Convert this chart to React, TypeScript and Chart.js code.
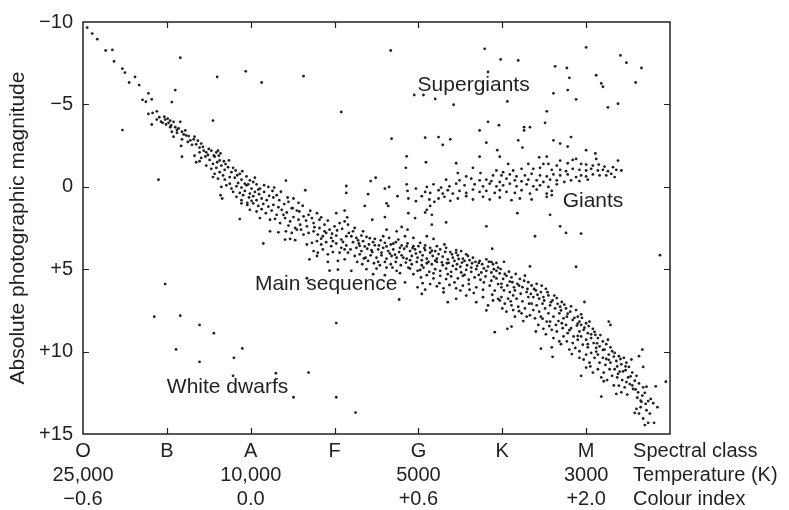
import React, { useEffect, useRef } from 'react';
import { Chart, registerables } from 'chart.js';

Chart.register(...registerables);

const INK = '#231f20';
const FONT = '"Liberation Sans", Arial, Helvetica, sans-serif';

// x = spectral class index (O=0 ... M=6), y = absolute photographic magnitude
const spectralClasses = ['O', 'B', 'A', 'F', 'G', 'K', 'M'];
const temperatureLabels = ['25,000', '', '10,000', '', '5000', '', '3000'];
const colourIndexLabels = ['\u22120.6', '', '0.0', '', '+0.6', '', '+2.0'];
const rowTitles = ['Spectral class', 'Temperature (K)', 'Colour index'];
const rowTitleX = 6.56;
const magnitudeTicks = [-10, -5, 0, 5, 10, 15];
const magnitudeTickLabels = ['\u221210', '\u22125', '0', '+5', '+10', '+15'];

const regionLabels = [
  { text: 'Supergiants', x: 3.99, y: -6.17 },
  { text: 'Giants', x: 5.72, y: 0.89 },
  { text: 'Main sequence', x: 2.05, y: 5.91 },
  { text: 'White dwarfs', x: 1.0, y: 12.19 },
];

const mainSequenceHot: [number, number][] = [
  [0.05, -9.66], [0.11, -9.3], [0.17, -8.96], [0.27, -8.27], [0.35, -8.31], [0.37, -7.61], [0.47, -7.17],
  [0.5, -6.93], [0.55, -6.33], [0.62, -6.67], [0.67, -6.17], [0.71, -5.28], [0.75, -5.16], [0.78, -5.67],
  [0.82, -5.31], [0.78, -4.42], [0.83, -4.48], [0.88, -4.58], [0.82, -3.78], [0.88, -4.08], [0.91, -4.22],
  [0.95, -3.88], [0.98, -4.08], [1.01, -4.14], [1.02, -3.88], [1.04, -4.02], [1.08, -3.94], [0.99, -3.78],
  [1.04, -3.62], [1.1, -3.62], [1.06, -3.34], [1.08, -3.04], [1.12, -3.28], [1.16, -3.94], [1.14, -3.54],
  [1.18, -3.34], [1.22, -3.42], [1.23, -3.12], [1.18, -2.88], [1.26, -3.08], [1.28, -2.82], [1.32, -2.88],
  [1.33, -3.04], [1.17, -2.48], [1.35, -2.58], [1.39, -2.38], [1.41, -2.62], [1.44, -2.19], [1.39, -2.09],
  [1.47, -2.09], [1.53, -2.19], [1.59, -2.09], [1.61, -2.19], [1.64, -2.03],
];

const mainSequenceA: [number, number][] = [
  [1.18, -1.83], [1.33, -1.89], [1.41, -1.75], [1.49, -1.93], [1.57, -1.83], [1.62, -1.89],
  [1.35, -1.49], [1.39, -1.55], [1.47, -1.29], [1.51, -1.63], [1.55, -1.39], [1.6, -1.49], [1.65, -1.29], [1.68, -1.55],
  [1.53, -1.09], [1.59, -1.15], [1.63, -0.89], [1.69, -1.03], [1.73, -1.19], [1.77, -0.89], [1.82, -0.99], [1.87, -0.79],
  [1.57, -0.79], [1.67, -0.69], [1.61, -0.49], [1.69, -0.43], [1.75, -0.59], [1.81, -0.55], [1.89, -0.43], [1.95, -0.63],
  [1.99, -0.39], [1.85, -0.23], [1.93, -0.19], [2.03, -0.29], [1.55, -0.59], [1.65, 0.01], [1.71, -0.09], [1.77, 0.11],
  [1.83, -0.03], [1.89, 0.05], [1.95, -0.09], [2.01, 0.11], [2.07, -0.15], [1.75, -0.19], [1.64, 0.51], [1.66, 0.71],
  [1.79, 0.31], [1.87, 0.37], [1.93, 0.25], [1.99, 0.41], [2.05, 0.31], [2.09, 0.17], [1.91, 0.51], [1.98, 0.65],
  [2.03, 0.57], [2.07, 0.81], [1.83, 0.61], [1.89, 0.81], [1.96, 0.97], [2.01, 0.85],
  [2.11, 0.11], [2.16, 0.31], [2.21, 0.01], [2.26, 0.25], [2.31, 0.51], [2.13, 0.71], [2.19, 0.81], [2.27, 0.65],
  [2.34, 0.81], [2.45, 0.91], [2.51, 0.71], [2.57, 0.97],
];

const mainSequenceF: [number, number][] = [
  [1.89, 1.0], [1.96, 1.1], [2.03, 1.0], [2.09, 1.16], [2.15, 1.04], [2.21, 1.2], [2.27, 1.1], [2.33, 1.24],
  [1.99, 1.4], [2.07, 1.5], [2.13, 1.36], [2.18, 1.6], [2.25, 1.44], [2.31, 1.7], [2.37, 1.4], [2.43, 1.56],
  [2.49, 1.3], [2.55, 1.44], [1.87, 1.96], [2.11, 1.9], [2.23, 2.0], [2.35, 2.2], [2.41, 1.9], [2.47, 2.1],
  [2.51, 1.84], [2.57, 2.0], [2.63, 1.8], [2.69, 1.7], [2.73, 1.9], [2.79, 1.6], [2.82, 2.0], [2.59, 2.3],
  [2.67, 2.4], [2.75, 2.2], [2.82, 2.5], [2.88, 2.3], [2.94, 2.6], [3.0, 2.4], [3.06, 2.2], [3.12, 2.1],
  [3.16, 2.3], [2.23, 2.7], [2.33, 2.76], [2.42, 2.7], [2.49, 2.8], [2.55, 2.6], [2.63, 2.9], [2.69, 2.8],
  [2.75, 2.7], [2.8, 2.9], [2.86, 3.0], [2.9, 2.8], [2.96, 3.1], [3.02, 2.96], [3.08, 3.2], [3.14, 3.0],
  [3.17, 2.8], [2.41, 3.2], [2.47, 3.16], [2.53, 3.24], [2.67, 3.5], [2.73, 3.4], [2.79, 3.3], [2.84, 3.5],
  [2.9, 3.36], [2.96, 3.6], [3.02, 3.44], [3.08, 3.7], [3.14, 3.56], [2.15, 3.44], [2.75, 3.9], [2.8, 4.0],
  [2.86, 3.8], [2.92, 4.1], [2.98, 3.96], [3.06, 4.0], [3.12, 3.8], [2.7, 4.4], [2.79, 4.2], [2.92, 4.56],
  [3.04, 4.5], [2.94, 5.09], [3.04, 5.03], [3.12, 4.4], [3.16, 4.0],
];

const mainSequenceG: [number, number][] = [
  [3.2, 3.0], [3.26, 3.1], [3.32, 2.96], [3.38, 3.04], [3.48, 3.16], [3.58, 3.0], [3.65, 3.1], [3.76, 3.2],
  [3.84, 3.0], [3.94, 3.1], [4.1, 3.0], [4.18, 3.16],
  [3.22, 3.36], [3.29, 3.44], [3.34, 3.3], [3.41, 3.5], [3.46, 3.36], [3.53, 3.56], [3.6, 3.4], [3.67, 3.5],
  [3.73, 3.36], [3.8, 3.56], [3.87, 3.44], [3.94, 3.6], [4.02, 3.4], [4.08, 3.56], [4.14, 3.7], [4.22, 3.6],
  [4.31, 3.5], [4.45, 4.0], [4.57, 4.1],
  [3.19, 3.8], [3.26, 3.7], [3.32, 3.9], [3.39, 3.76], [3.45, 3.96], [3.52, 3.8], [3.58, 3.7], [3.64, 3.9],
  [3.7, 3.8], [3.77, 3.96], [3.83, 3.76], [3.9, 3.9], [3.96, 3.8], [4.02, 3.96], [4.08, 3.84], [4.14, 4.0],
  [4.2, 3.9], [4.26, 3.8], [4.33, 3.7], [4.38, 3.96], [4.45, 3.84], [4.51, 3.9],
  [3.24, 4.2], [3.3, 4.1], [3.37, 4.3], [3.43, 4.16], [3.5, 4.3], [3.56, 4.16], [3.62, 4.36], [3.68, 4.2],
  [3.74, 4.3], [3.8, 4.16], [3.86, 4.36], [3.92, 4.2], [3.99, 4.3], [4.05, 4.16], [4.1, 4.36], [4.17, 4.2],
  [4.22, 4.36], [4.29, 4.24], [4.35, 4.4], [4.41, 4.3], [4.47, 4.16], [4.53, 4.36], [4.59, 4.2], [4.65, 4.3],
  [4.73, 4.5], [4.81, 4.4], [4.87, 4.56],
  [3.27, 4.56], [3.33, 4.7], [3.4, 4.5], [3.47, 4.64], [3.54, 4.76], [3.6, 4.56], [3.67, 4.7], [3.73, 4.56],
  [3.79, 4.76], [3.85, 4.6], [3.92, 4.7], [3.98, 4.56], [4.04, 4.76], [4.1, 4.64], [4.16, 4.7], [4.22, 4.56],
  [4.29, 4.76], [4.34, 4.64], [4.41, 4.8], [4.46, 4.7], [4.52, 4.6], [4.58, 4.76], [4.64, 4.64], [4.7, 4.8],
  [4.76, 4.7], [4.83, 4.84], [4.89, 4.7], [4.95, 4.9],
  [3.2, 5.1], [3.38, 5.0], [3.5, 4.96], [3.62, 4.9], [3.74, 5.1], [3.9, 4.96], [3.99, 5.1], [4.06, 4.9],
  [4.13, 5.16], [4.2, 5.0], [4.26, 5.1], [4.33, 4.96], [4.39, 5.16], [4.45, 5.0], [4.51, 5.2], [4.57, 5.04],
  [4.63, 5.16], [4.69, 5.0], [4.75, 5.2], [4.81, 5.1], [4.87, 5.2], [4.93, 5.1],
  [3.46, 5.3], [3.6, 5.36], [3.78, 5.24], [3.94, 5.3], [4.03, 5.5], [4.1, 5.36], [4.18, 5.56], [4.26, 5.4],
  [4.33, 5.6], [4.39, 5.44], [4.47, 5.56], [4.53, 5.4], [4.6, 5.64], [4.67, 5.5], [4.74, 5.64], [4.8, 5.44],
  [4.87, 5.7], [4.93, 5.56],
  [3.84, 5.8], [3.99, 6.1], [4.08, 6.24], [4.14, 5.9], [4.22, 6.04], [4.3, 6.16], [4.37, 5.96], [4.45, 6.16],
  [4.53, 6.0], [4.61, 6.24], [4.69, 6.1], [4.77, 6.24], [4.85, 6.0], [4.91, 6.3], [4.95, 5.9],
  [4.04, 6.5], [4.3, 6.4], [4.35, 7.0], [4.45, 6.8], [4.57, 6.6], [4.69, 7.0], [4.77, 6.7], [4.83, 7.2],
  [4.89, 6.9], [4.81, 7.5], [4.95, 6.8], [3.77, 6.84],
];

const mainSequenceK: [number, number][] = [
  [4.98, 4.99], [5.03, 5.29], [5.08, 5.15], [5.01, 5.59], [5.11, 5.49], [4.99, 5.89], [5.06, 5.99], [5.12, 5.79],
  [5.02, 6.29], [5.09, 6.39], [4.99, 6.69], [5.07, 6.79], [5.13, 6.59], [5.03, 7.09], [5.11, 7.19], [5.05, 7.58],
  [5.13, 7.48], [5.0, 7.38],
  [5.16, 5.29], [5.21, 5.59], [5.27, 5.39], [5.18, 5.89], [5.24, 6.09], [5.31, 5.79], [5.15, 6.29], [5.22, 6.49],
  [5.29, 6.39], [5.17, 6.79], [5.24, 6.95], [5.31, 6.69], [5.19, 7.28], [5.27, 7.38], [5.32, 7.09], [5.23, 7.68],
  [5.29, 7.88], [5.15, 7.88],
  [5.35, 5.99], [5.41, 5.89], [5.4, 6.29], [5.46, 6.39], [5.52, 6.19], [5.37, 6.69], [5.44, 6.79], [5.49, 6.69],
  [5.35, 7.09], [5.41, 7.19], [5.48, 7.09], [5.37, 7.48], [5.44, 7.58], [5.51, 7.38], [5.39, 7.98], [5.46, 7.88],
  [5.53, 8.18], [5.43, 8.38], [5.4, 8.78], [5.49, 8.62],
  [5.55, 6.59], [5.6, 6.89], [5.65, 6.75], [5.71, 6.99], [5.57, 7.19], [5.63, 7.38], [5.69, 7.28], [5.55, 7.68],
  [5.61, 7.88], [5.68, 7.68], [5.73, 7.98], [5.57, 8.18], [5.64, 8.38], [5.71, 8.28], [5.59, 8.68], [5.65, 8.78],
  [5.72, 8.58], [5.61, 9.18], [5.68, 9.38], [5.73, 9.08],
  [5.76, 7.38], [5.81, 7.58], [5.88, 7.48], [5.77, 7.88], [5.84, 8.08], [5.9, 7.88], [5.76, 8.38], [5.82, 8.58],
  [5.89, 8.42], [5.78, 8.88], [5.85, 9.08], [5.92, 8.78], [5.77, 9.38], [5.84, 9.48], [5.9, 9.28], [5.8, 9.88],
  [5.87, 9.78], [5.92, 8.18], [5.94, 7.74],
  [5.94, 8.38], [6.0, 8.28], [6.04, 8.18], [5.97, 8.68], [6.02, 8.88], [6.08, 8.62], [5.94, 9.08], [6.0, 9.28],
  [6.06, 9.18], [6.11, 8.98], [5.96, 9.58], [6.02, 9.74], [6.09, 9.48], [5.92, 9.98], [6.0, 10.18], [6.06, 10.08],
  [6.12, 9.78], [5.97, 10.48], [6.04, 10.67], [6.1, 10.38], [6.0, 10.97], [6.08, 11.27], [5.92, 10.38], [5.94, 11.47],
  [6.14, 9.18], [6.2, 9.38], [6.26, 9.28], [6.16, 9.68], [6.22, 9.88], [6.29, 9.74], [6.14, 10.18], [6.2, 10.38],
  [6.27, 10.18], [6.31, 9.98], [6.16, 10.67], [6.23, 10.81], [6.29, 10.67], [6.14, 11.07], [6.21, 11.27], [6.28, 11.07],
  [6.18, 11.57], [6.25, 11.73], [6.31, 11.47], [6.27, 8.18], [6.29, 8.38],
  [6.34, 10.08], [6.39, 10.28], [6.45, 10.38], [6.36, 10.57], [6.42, 10.77], [6.48, 10.67], [6.34, 11.07], [6.4, 11.21],
  [6.47, 11.13], [6.51, 10.93], [6.37, 11.57], [6.43, 11.73], [6.5, 11.57], [6.39, 12.07], [6.46, 12.17], [6.52, 11.97],
  [6.42, 12.47], [6.49, 12.61], [6.54, 10.48], [6.63, 10.28], [6.67, 9.88], [6.68, 10.93],
  [6.55, 11.27], [6.6, 11.47], [6.58, 11.77], [6.63, 11.93], [6.68, 12.17], [6.56, 12.27], [6.62, 12.47], [6.67, 12.67],
  [6.72, 12.13], [6.65, 12.97], [6.71, 13.17], [6.65, 13.37], [6.6, 13.47], [6.72, 13.56], [6.76, 13.76], [6.63, 13.76],
  [6.68, 14.06], [6.74, 14.32], [6.58, 13.72], [6.7, 14.46], [6.81, 14.32], [6.77, 12.87], [6.8, 13.13],
];

const mainSequenceInfill: [number, number][] = [
  [0.93, -3.95], [0.97, -4.25], [1.05, -3.72], [1.12, -3.46], [1.2, -3.18], [1.25, -2.72], [1.3, -2.55],
  [1.37, -2.8], [1.43, -2.42], [1.46, -1.84], [1.5, -2.3], [1.56, -1.9], [1.63, -1.6], [1.7, -1.38],
  [1.74, -1.6], [1.79, -1.15], [1.84, -0.7], [1.9, -0.95], [1.97, -0.15], [2.05, -0.55], [2.1, 0.45],
  [2.16, -0.1], [2.22, 0.55], [2.28, 0.05], [2.36, 0.3], [2.4, 1.05], [2.44, 0.65], [2.5, 1.3],
  [2.58, 1.5], [2.62, 1.15], [2.66, 2.05], [2.71, 1.45], [2.76, 2.45], [2.84, 1.85], [2.88, 2.7], [2.92, 2.05],
  [2.97, 2.85], [3.03, 2.65], [3.09, 2.55], [3.1, 3.35], [3.15, 1.85], [2.6, 2.6], [2.45, 2.35], [2.39, 1.7],
  [2.29, 1.95], [2.53, 2.5], [2.98, 3.3], [2.84, 3.15],
  [3.22, 2.7], [3.28, 3.25], [3.3, 3.58], [3.36, 3.62], [3.42, 3.12], [3.44, 3.85], [3.48, 3.55], [3.55, 3.25],
  [3.56, 4.0], [3.62, 3.62], [3.66, 4.05], [3.7, 3.45], [3.72, 4.12], [3.78, 3.7], [3.82, 4.3], [3.86, 3.62],
  [3.9, 4.45], [3.93, 3.72], [3.97, 4.05], [4.0, 3.6], [4.04, 4.45], [4.07, 3.72], [4.12, 4.55], [4.16, 3.88],
  [4.2, 4.48], [4.24, 4.08], [4.28, 4.58], [4.32, 3.95], [4.36, 4.62], [4.4, 4.1], [4.43, 4.5], [4.48, 4.38],
  [4.5, 4.85], [4.55, 4.5], [4.61, 4.45], [4.63, 4.9], [4.68, 4.55], [4.72, 4.62], [4.78, 4.95], [4.84, 4.55],
  [4.9, 5.0], [4.93, 4.62], [4.97, 5.25], [3.35, 4.35], [3.52, 4.55], [3.69, 4.9], [3.88, 4.9], [4.02, 5.05],
  [4.18, 5.25], [4.35, 5.3], [4.55, 5.35], [4.72, 5.35], [4.9, 5.45], [4.05, 5.85], [4.25, 5.85], [4.43, 5.8],
  [4.6, 5.9], [4.78, 5.8], [4.99, 6.1], [4.5, 6.3], [4.66, 6.45], [4.88, 6.55], [4.97, 6.9],
  [5.05, 5.4], [5.09, 5.75], [5.14, 6.1], [5.2, 6.0], [5.26, 5.7], [5.3, 6.2], [5.34, 6.5], [5.38, 6.2],
  [5.42, 6.55], [5.47, 6.0], [5.5, 6.9], [5.54, 6.4], [5.58, 7.0], [5.62, 6.6], [5.66, 7.1], [5.7, 7.5],
  [5.74, 7.15], [5.78, 7.7], [5.82, 7.25], [5.86, 7.95], [5.9, 8.3], [5.95, 7.95], [5.98, 8.55], [6.03, 8.45],
  [6.06, 8.95], [6.1, 8.8], [6.13, 9.5], [6.17, 9.0], [6.2, 9.9], [6.24, 9.55], [6.27, 10.5], [6.33, 10.3],
  [6.37, 10.9], [6.41, 10.45], [6.44, 11.2], [6.47, 10.9], [6.53, 11.5], [6.55, 12.05], [6.59, 12.3], [6.61, 12.8],
  [6.66, 13.05], [6.7, 12.5], [6.74, 13.0], [5.1, 6.95], [5.2, 7.55], [5.33, 7.8], [5.48, 8.0], [5.56, 8.45],
  [5.67, 8.15], [5.8, 8.7], [5.9, 9.05], [6.02, 9.55], [6.12, 10.0], [6.24, 10.45], [6.38, 11.35], [6.48, 11.85],
  [5.25, 8.15], [5.52, 8.95], [5.7, 9.55], [5.83, 10.15], [6.05, 10.9], [6.21, 11.8], [6.33, 12.05],
];

const giants: [number, number][] = [
  [5.44, -1.79], [5.53, -1.83], [5.69, -1.59], [5.84, -1.63], [5.88, -1.69], [6.12, -1.69],
  [5.07, -1.39], [5.31, -1.39], [5.49, -1.39], [5.55, -1.39], [5.65, -1.29], [5.78, -1.43], [5.94, -1.39],
  [6.0, -1.35], [6.08, -1.29], [6.15, -1.35], [6.22, -1.23], [6.32, -1.19],
  [4.65, -1.15], [4.93, -0.99], [5.01, -0.89], [5.13, -0.99], [5.23, -1.09], [5.37, -1.09], [5.45, -1.15],
  [5.59, -1.03], [5.69, -1.03], [5.76, -0.95], [5.84, -1.09], [5.92, -1.03], [6.0, -0.99], [6.06, -1.09],
  [6.14, -0.99], [6.2, -1.03], [6.26, -0.95], [6.36, -1.03], [6.42, -0.99],
  [4.47, -0.83], [4.57, -0.63], [4.74, -0.83], [4.89, -0.69], [4.99, -0.69], [5.09, -0.75], [5.17, -0.63],
  [5.27, -0.69], [5.35, -0.79], [5.45, -0.69], [5.53, -0.63], [5.61, -0.75], [5.69, -0.69], [5.78, -0.75],
  [5.88, -0.59], [5.94, -0.69], [6.0, -0.63], [6.08, -0.75], [6.16, -0.69], [6.24, -0.69], [6.3, -0.79], [6.34, -0.59],
  [4.33, -0.43], [4.49, -0.39], [4.63, -0.49], [4.73, -0.39], [4.81, -0.43], [4.87, -0.35], [4.97, -0.29],
  [5.05, -0.49], [5.15, -0.39], [5.23, -0.33], [5.31, -0.43], [5.41, -0.39], [5.49, -0.29], [5.57, -0.43],
  [5.65, -0.39], [5.74, -0.29], [5.82, -0.39], [5.92, -0.35], [6.02, -0.43],
  [3.86, -0.15], [4.1, 0.01], [4.18, -0.15], [4.27, 0.05], [4.37, -0.03], [4.45, -0.19], [4.55, -0.09],
  [4.67, -0.15], [4.77, -0.03], [4.85, -0.19], [4.93, -0.03], [5.01, -0.09], [5.09, -0.19], [5.17, -0.03],
  [5.29, -0.15], [5.37, -0.03], [5.45, -0.09], [5.55, 0.01], [5.65, -0.15],
  [3.87, 0.25], [3.97, 0.11], [4.08, 0.31], [4.14, 0.37], [4.24, 0.21], [4.29, 0.41], [4.35, 0.21], [4.41, 0.41],
  [4.49, 0.25], [4.57, 0.37], [4.65, 0.17], [4.73, 0.31], [4.81, 0.25], [4.91, 0.37], [4.97, 0.21], [5.05, 0.31],
  [5.15, 0.37], [5.23, 0.21], [5.33, 0.41], [5.41, 0.17], [5.53, 0.41], [5.59, 0.25],
  [3.88, 0.71], [3.97, 0.87], [4.04, 0.57], [4.13, 0.77], [4.19, 0.91], [4.24, 0.71], [4.31, 0.61], [4.38, 0.85],
  [4.47, 0.71], [4.57, 0.57], [4.65, 0.77], [4.77, 0.61], [4.85, 0.77], [4.97, 0.65], [5.11, 0.81], [5.21, 0.71],
  [5.35, 0.77], [5.53, 0.61], [5.59, 0.51],
];

const brightGiants: [number, number][] = [
  [4.83, -3.94], [4.96, -3.74], [4.73, -3.42], [5.26, -3.62], [5.33, -3.62], [5.26, -3.42], [5.51, -3.88],
  [4.08, -2.98], [4.24, -3.02], [4.29, -2.54], [4.38, -2.88], [4.81, -2.68], [5.19, -2.82], [5.24, -2.38],
  [5.61, -2.82], [5.69, -2.62], [5.78, -2.44], [5.82, -3.02], [4.94, -2.22], [3.86, -1.85], [4.73, -1.83],
  [4.97, -1.83], [3.85, -1.15], [4.09, -1.49], [4.45, -1.43], [6.0, -2.22], [6.11, -2.02], [6.38, -1.59], [3.68, -2.92],
];

const supergiants: [number, number][] = [
  [2.13, -6.33], [2.63, -6.71], [3.08, -4.54], [3.67, -8.27], [3.95, -5.57], [4.06, -5.57], [4.2, -5.33],
  [4.42, -4.98], [4.79, -8.37], [4.98, -7.73], [5.19, -7.67], [4.83, -6.97], [5.06, -5.18], [5.53, -4.58],
  [5.61, -5.67], [5.63, -7.31], [5.77, -7.21], [5.8, -6.61], [5.78, -5.87], [5.88, -5.31], [6.0, -8.46],
  [6.12, -6.77], [6.18, -6.27], [6.2, -6.07], [6.26, -4.82], [6.38, -5.04], [6.41, -7.97], [6.48, -7.53],
  [6.66, -7.21], [6.59, -6.33],
  [0.47, -3.44], [0.9, -0.43], [1.16, -7.83], [1.06, -5.14], [1.1, -5.87], [1.6, -6.67], [1.55, -4.02], [1.94, -7.01],
];

const gapStars: [number, number][] = [
  [2.42, -0.38], [2.65, 0.21], [3.14, -0.05], [3.14, 0.37], [3.02, 1.6], [3.12, 1.44], [3.4, 0.45], [3.43, -0.35],
  [3.49, -0.55], [3.6, 0.11], [3.62, 1.0], [3.65, 0.01], [3.75, 0.57], [3.36, 1.16], [3.64, 1.16], [4.1, 1.4],
  [4.14, 1.16], [4.08, 1.56], [4.16, 1.7], [3.45, 2.0], [3.6, 1.84], [3.88, 1.6], [3.96, 1.9], [3.24, 2.5],
  [3.34, 2.7], [3.62, 2.6], [3.74, 2.7], [3.8, 2.44], [3.87, 2.6], [4.16, 2.3], [4.33, 2.16], [4.81, 2.4],
  [5.18, 1.6], [5.57, 1.7], [5.39, 3.0], [5.69, 2.4], [5.76, 2.8], [5.94, 2.84],
  [4.88, 3.76], [5.02, 4.55], [5.33, 4.83], [5.88, 4.85], [5.98, 6.99], [6.88, 4.15], [6.95, 11.83], [6.83, 12.11],
  [6.85, 13.37], [6.18, 12.73], [6.36, 12.57], [5.46, 9.82], [5.59, 9.74], [5.6, 10.32], [5.06, 8.62], [5.11, 8.48],
  [4.91, 8.82],
];

const whiteDwarfs: [number, number][] = [
  [0.98, 5.9], [0.85, 7.88], [1.16, 7.82], [1.39, 8.38], [1.56, 8.88], [1.11, 9.87], [1.9, 9.81], [3.02, 8.27],
  [1.39, 10.62], [1.8, 10.38], [1.79, 11.47], [2.3, 11.31], [2.69, 11.27], [2.51, 12.77], [3.02, 12.77],
  [3.25, 13.7], [2.67, 5.55],
];

const starGroups = [
  mainSequenceHot, mainSequenceA, mainSequenceF, mainSequenceG, mainSequenceK, mainSequenceInfill,
  giants, brightGiants, supergiants, gapStars, whiteDwarfs,
];

const decorPlugin = {
  id: 'hrDecor',
  afterDatasetsDraw(chart: any) {
    const { ctx, chartArea: a, scales } = chart;
    const xs = scales.x;
    const ys = scales.y;
    ctx.save();
    ctx.strokeStyle = INK;
    ctx.lineWidth = 1.5;
    ctx.strokeRect(a.left, a.top, a.right - a.left, a.bottom - a.top);
    ctx.lineWidth = 1.2;
    ctx.beginPath();
    spectralClasses.forEach((_, i) => {
      if (i === 0) return;
      const px = Math.round(xs.getPixelForValue(i)) + 0.5;
      ctx.moveTo(px, a.bottom);
      ctx.lineTo(px, a.bottom - 6);
      ctx.moveTo(px, a.top);
      ctx.lineTo(px, a.top + 6);
    });
    magnitudeTicks.forEach((v, i) => {
      if (i === 0 || i === magnitudeTicks.length - 1) return;
      const py = Math.round(ys.getPixelForValue(v)) + 0.5;
      ctx.moveTo(a.left, py);
      ctx.lineTo(a.left + 6, py);
      ctx.moveTo(a.right, py);
      ctx.lineTo(a.right - 6, py);
    });
    ctx.stroke();

    ctx.fillStyle = INK;
    ctx.textBaseline = 'middle';
    ctx.textAlign = 'left';
    ctx.font = `21px ${FONT}`;
    regionLabels.forEach((l) => {
      ctx.fillText(l.text, xs.getPixelForValue(l.x), ys.getPixelForValue(l.y));
    });
    ctx.font = `20px ${FONT}`;
    rowTitles.forEach((t, i) => {
      ctx.fillText(t, xs.getPixelForValue(rowTitleX), a.bottom + 5 + 12 + i * 24);
    });
    ctx.restore();
  },
};

export default function App() {
  const ref = useRef<HTMLCanvasElement>(null);
  useEffect(() => {
    const canvas = ref.current;
    if (!canvas) return;
    const chart = new Chart(canvas, {
      type: 'scatter',
      data: {
        datasets: starGroups.map((g, i) => ({
          label: 'stars' + i,
          data: g.map(([x, y]) => ({ x, y })),
          pointRadius: 1.4,
          pointHoverRadius: 1.4,
          pointBorderWidth: 0,
          pointBackgroundColor: INK,
          borderColor: INK,
          backgroundColor: INK,
        })),
      },
      options: {
        animation: false,
        responsive: false,
        maintainAspectRatio: false,
        devicePixelRatio: 1,
        events: [],
        layout: { padding: { top: 16, right: 119, bottom: 0, left: 0 } },
        plugins: { legend: { display: false }, tooltip: { enabled: false } },
        scales: {
          x: {
            type: 'linear',
            min: 0,
            max: 7,
            afterBuildTicks: (s: any) => {
              s.ticks = spectralClasses.map((_, i) => ({ value: i }));
            },
            afterFit: (s: any) => {
              s.height = 76;
            },
            ticks: {
              autoSkip: false,
              maxRotation: 0,
              minRotation: 0,
              padding: 5,
              color: INK,
              font: { family: FONT, size: 20, lineHeight: 1.2 },
              callback: (v: any) => {
                const i = Math.round(Number(v));
                return [spectralClasses[i], temperatureLabels[i], colourIndexLabels[i]];
              },
            },
            grid: { display: false, drawTicks: false },
            border: { display: false },
          },
          y: {
            type: 'linear',
            min: -10,
            max: 15,
            reverse: true,
            afterBuildTicks: (s: any) => {
              s.ticks = magnitudeTicks.map((v) => ({ value: v }));
            },
            afterFit: (s: any) => {
              s.width = 83;
            },
            ticks: {
              padding: 10,
              color: INK,
              font: { family: FONT, size: 20 },
              callback: (v: any) => {
                const i = magnitudeTicks.indexOf(Number(v));
                return i >= 0 ? magnitudeTickLabels[i] : '';
              },
            },
            title: {
              display: true,
              text: 'Absolute photographic magnitude',
              color: INK,
              font: { family: FONT, size: 21 },
              padding: { top: 6, bottom: 0 },
            },
            grid: { display: false, drawTicks: false },
            border: { display: false },
          },
        },
      },
      plugins: [decorPlugin],
    });
    return () => chart.destroy();
  }, []);
  return (
    <div style={{ position: 'fixed', left: 0, top: 0, width: 789, height: 510, background: '#ffffff' }}>
      <canvas ref={ref} width={789} height={510} style={{ display: 'block', width: 789, height: 510 }} />
    </div>
  );
}
